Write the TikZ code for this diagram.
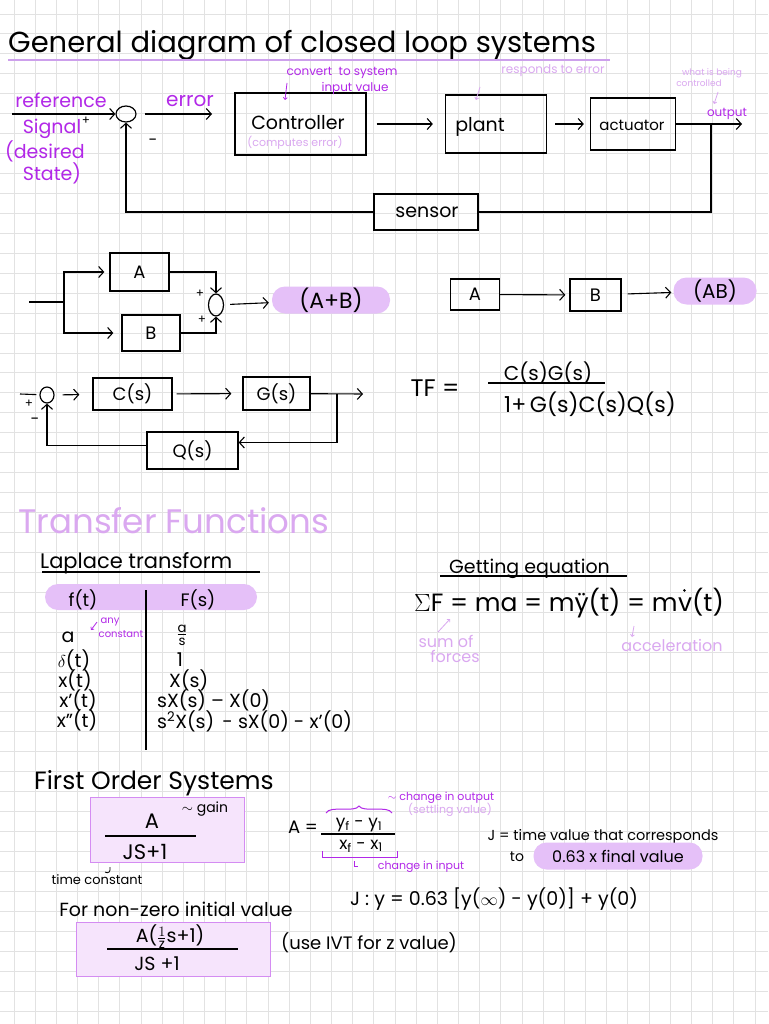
\documentclass[tikz,border=0pt]{standalone}
\usepackage{fontspec}
\setmainfont{Poppins}
\usepackage{amsmath}
\usepackage{tikz}
\usetikzlibrary{positioning,arrows.meta,shapes}

\definecolor{pbright}{RGB}{178,40,232}
\definecolor{plight}{RGB}{218,168,240}
\definecolor{pillc}{RGB}{229,192,248}
\definecolor{ulinec}{RGB}{205,160,236}
\definecolor{boxfill}{RGB}{246,228,252}
\definecolor{boxdraw}{RGB}{212,140,242}
\definecolor{gridc}{RGB}{226,226,226}

\tikzset{
  txt/.style={font=\fontsize{#1}{#1}\selectfont, inner sep=0pt},
  blk/.style={draw, line width=1.3pt, inner sep=0pt, font=\fontsize{18}{18}\selectfont},
  sumc/.style={draw, ellipse, line width=1.2pt, inner sep=0pt},
  ln/.style={line width=1.1pt},
  arr/.style={line width=1.1pt, -{Straight Barb[length=5pt,width=11pt,line width=1.1pt]}},
  note/.style={line width=0.8pt, -{Straight Barb[length=2pt,width=4pt]}},
  pill/.style={fill=pillc, rounded corners=13pt, inner sep=0pt},
  fbox/.style={draw=boxdraw, fill=boxfill, line width=1pt},
}

\begin{document}
\begin{tikzpicture}[x=1pt, y=-1pt]
\useasboundingbox (0,0) rectangle (768,1024);
\fill[white] (0,0) rectangle (768,1024);
\foreach \i in {0,...,35} \draw[gridc, line width=0.9pt] ({14+21.17*\i},0) -- ({14+21.17*\i},1024);
\foreach \j in {0,...,50} \draw[gridc, line width=0.9pt] (0,{14+19.94*\j}) -- (768,{14+19.94*\j});

% Title
\node[txt=29, anchor=base west] (title) at (8,53) {General diagram of closed loop systems};
\draw[ulinec, line width=1.3pt] (8,60) -- (610,60);

% Closed loop
\coordinate (refin) at (12,114);
\node[sumc, minimum width=20, minimum height=16] (s1) at (126,114) {};
\coordinate (errend) at (212,114);
\node[blk, minimum width=131, minimum height=62] (ctrl) at (300.5,124) {};
\node[blk, minimum width=101, minimum height=58] (plant) at (496,124) {};
\node[blk, minimum width=85, minimum height=52] (act) at (633,124) {};
\node[blk, minimum width=104, minimum height=36] (sensor) at (426,212) {};
\coordinate (tap) at (711,124);
\coordinate (out) at (742,124);

\node[txt=19] (lctrl) at (298,123) {Controller};
\node[txt=11, text=plight] (lcomp) at (295,143) {(computes error)};
\node[txt=19] (lplant) at (480,127) {plant};
\node[txt=15] (lact) at (632,125) {actuator};
\node[txt=19] (lsens) at (427,212) {sensor};

\draw[arr] (refin) -- (s1);
\draw[arr, shorten <=8] (s1) -- (errend);
\draw[arr, shorten <=10, shorten >=12] (ctrl) -- (plant);
\draw[arr, shorten <=8, shorten >=6] (plant) -- (act);
\draw[arr] (act) -- (out);
\draw[ln] (tap) |- (sensor);
\draw[arr] (sensor) -| (s1);

\node[txt=19, text=pbright] (lref) at (61,100) {reference};
\node[txt=19, text=pbright] (lsig) at (52,129) {Signal};
\node[txt=12] (lplus) at (86,121) {+};
\node[txt=16] (lminus) at (153,142) {-};
\node[txt=19, text=pbright] (ldes) at (45,151) {(desired};
\node[txt=19, text=pbright] (lsta) at (52,173) {State)};
\node[txt=20, text=pbright] (lerr) at (190,101) {error};
\node[txt=12, text=pbright] (lconv) at (342,73) {convert\ \ to system};
\node[txt=12, text=pbright] (linp) at (355,88) {input value};
\draw[note, pbright] (287,83) -- (285,100);
\node[txt=12, text=plight] (lresp) at (553,71) {responds to error};
\draw[note, plight] (480,87) -- (476,100);
\node[txt=9, text=plight] (lwhat) at (712,73) {what is being};
\node[txt=9, text=plight] (lcont) at (699,83) {controlled};
\draw[note, plight] (718,92) -- (714,104);
\node[txt=12, text=pbright] (lout) at (727,114) {output};

% Parallel
\coordinate (pin) at (29,302);
\coordinate (split) at (64,302);
\node[blk, minimum width=59, minimum height=38] (pa) at (139.5,272) {A};
\node[blk, minimum width=58, minimum height=36] (pb) at (151,333) {B};
\node[sumc, minimum width=15, minimum height=22] (s2) at (216,305) {};
\node[pill, minimum width=118, minimum height=27, font=\fontsize{22}{22}\selectfont] (pab) at (331,300) {(A+B)};
\draw[ln] (pin) -- (split);
\draw[arr, shorten >=5] (split) |- (pa);
\draw[arr, shorten >=8] (split) |- (pb);
\draw[arr] (pa) -| (s2);
\draw[arr] (pb) -| (s2);
\draw[arr, shorten <=6, shorten >=3] (s2) -- (pab);
\node[txt=12] (lp1) at (200,294) {+};
\node[txt=12] (lp2) at (202,320) {+};

% Series
\node[blk, minimum width=49, minimum height=31] (sa) at (475,294.5) {A};
\node[blk, minimum width=51, minimum height=32] (sb) at (595.5,295) {B};
\node[pill, minimum width=83, minimum height=27, font=\fontsize{20}{20}\selectfont] (sab) at (715,291) {(AB)};
\draw[arr, shorten >=4] (sa) -- (sb);
\draw[arr, shorten <=6, shorten >=2] (sb) -- (sab);

% Feedback
\coordinate (fin) at (20,394);
\node[sumc, minimum width=14, minimum height=16] (s3) at (47,395) {};
\node[blk, minimum width=79, minimum height=32] (cs) at (132.5,394) {C(s)};
\node[blk, minimum width=67, minimum height=33] (gs) at (276.5,393.5) {G(s)};
\node[blk, minimum width=91, minimum height=37] (qs) at (192.5,450.5) {Q(s)};
\coordinate (gtap) at (337,394);
\coordinate (gout) at (363,394);
\draw[ln, shorten >=3] (fin) -- (s3);
\draw[arr, shorten <=8, shorten >=13] (s3) -- (cs);
\draw[arr, shorten <=4, shorten >=11] (cs) -- (gs);
\draw[arr] (gs) -- (gout);
\draw[arr] (gtap) |- ([yshift=8]qs.east);
\draw[arr] ([yshift=5]qs.west) -| (s3);
\node[txt=12] (lp3) at (29,404) {+};
\node[txt=16] (lm3) at (35,421) {-};

\node[txt=24] (tf) at (435,388) {TF =};
\node[txt=20] (tfnum) at (548,373) {C(s)G(s)};
\draw[ln] (488,383) -- (605,383);
\node[txt=22] (tfden) at (590,404) {1+\,G(s)C(s)Q(s)};

% Transfer functions
\node[txt=34, text=plight, anchor=base west] (tfh) at (18,533) {Transfer Functions};
\node[txt=21, anchor=base west] (lap) at (40,568) {Laplace transform};
\draw[ln] (42,572) -- (260,572);
\node[pill, minimum width=212, minimum height=26] (hdr) at (151,597) {};
\node[txt=18] (hf) at (83,600) {f(t)};
\node[txt=18] (hF) at (198,600) {F(s)};
\draw[ln] (146,590) -- (146,750);
\node[txt=19] (r1a) at (68,637) {a};
\node[txt=10, text=pbright] (lany) at (110,622) {any};
\node[txt=10, text=pbright] (lcst) at (121,634) {constant};
\draw[note, pbright] (97,622) -- (91,630);
\node[txt=19] (r1b) at (182,635) {$\frac{\text{a}}{\text{s}}$};
\node[txt=19] (r2a) at (74,660) {$\delta$(t)};
\node[txt=19] (r2b) at (180,660) {1};
\node[txt=19] (r3a) at (75,680) {x(t)};
\node[txt=19, anchor=west] (r3b) at (169,680) {X(s)};
\node[txt=19] (r4a) at (78,700) {x'(t)};
\node[txt=19, anchor=west] (r4b) at (157,700) {sX(s) -- X(0)};
\node[txt=19] (r5a) at (77,720) {x''(t)};
\node[txt=19, anchor=west] (r5b) at (157,721) {s\textsuperscript{2}X(s) \,- sX(0) - x'(0)};

\node[txt=19, anchor=base west] (geq) at (449,573) {Getting equation};
\draw[ln] (440,576) -- (627,576);
\node[txt=25, anchor=base west] (eq) at (414,611) {$\Sigma$F = ma = m\"{y}(t) = m};
\node[txt=25, anchor=base west] (eqv) at (eq.base east) {v(t)};
\fill ([xshift=6.5pt, yshift=-3pt]eqv.north west) circle (1.4pt);
\node[txt=16, text=plight] (lsum) at (446,641) {sum of};
\node[txt=16, text=plight] (lfor) at (455,656) {forces};
\draw[note, plight] (438,632) -- (450,619);
\node[txt=16, text=plight] (lacc) at (672,645) {acceleration};
\draw[note, plight] (634,626) -- (632,637);

% First order
\node[txt=25, anchor=west] (fos) at (34,783) {First Order Systems};
\draw[fbox] (90,797) rectangle (244,862);
\node[txt=21] (fa) at (152,821) {A};
\node[txt=14] (fgain) at (205,809) {$\sim$ gain};
\draw[ln] (105,836) -- (196,836);
\node[txt=21] (fden) at (145,852) {JS+1};
\node[txt=13] (ftc) at (97,880) {time constant};
\draw[line width=0.8pt] (110,867) .. controls (111,872) and (108,874) .. (105,872);
\node[txt=18] (aeq) at (303,827) {A =};
\node[txt=17] (anum) at (359,825) {y\textsubscript{f} - y\textsubscript{1}};
\draw[ln] (321,834) -- (395,834);
\node[txt=17] (aden) at (361,846) {x\textsubscript{f} - x\textsubscript{1}};
\draw[pbright, line width=1pt] (326,813) .. controls (330,805) and (355,813) .. (359,806) .. controls (363,813) and (388,805) .. (392,813);
\node[txt=11, text=pbright] (lchout) at (441,798) {$\sim$ change in output};
\node[txt=11, text=plight] (lsett) at (450,810) {(settling value)};
\draw[pbright, line width=1pt] (322,851) -- (322,857) -- (397,857) -- (397,851);
\draw[pbright, line width=0.8pt] (354,861) -- (354,866) -- (358,866);
\node[txt=11, text=pbright] (lchin) at (421,867) {change in input};
\node[txt=14.5] (ltau) at (603,837) {J = time value that corresponds};
\node[txt=14] (lto) at (517,857) {to};
\node[pill, minimum width=169, minimum height=27, font=\fontsize{16}{16}\selectfont] (p63) at (618,856) {0.63 x final value};
\node[txt=19] (teq) at (494,899) {J : y = 0.63 [y($\infty$) - y(0)] + y(0)};
\node[txt=19] (lnz) at (176,909) {For non-zero initial value};
\draw[fbox] (76,922) rectangle (270,976);
\node[txt=19] (nnum) at (170,937) {A($\frac{1}{\text{z}}$s+1)};
\draw[ln] (107,949) -- (238,949);
\node[txt=19] (nden) at (157,964) {JS +1};
\node[txt=18] (livt) at (369,943) {(use IVT for z value)};

\end{tikzpicture}
\end{document}
